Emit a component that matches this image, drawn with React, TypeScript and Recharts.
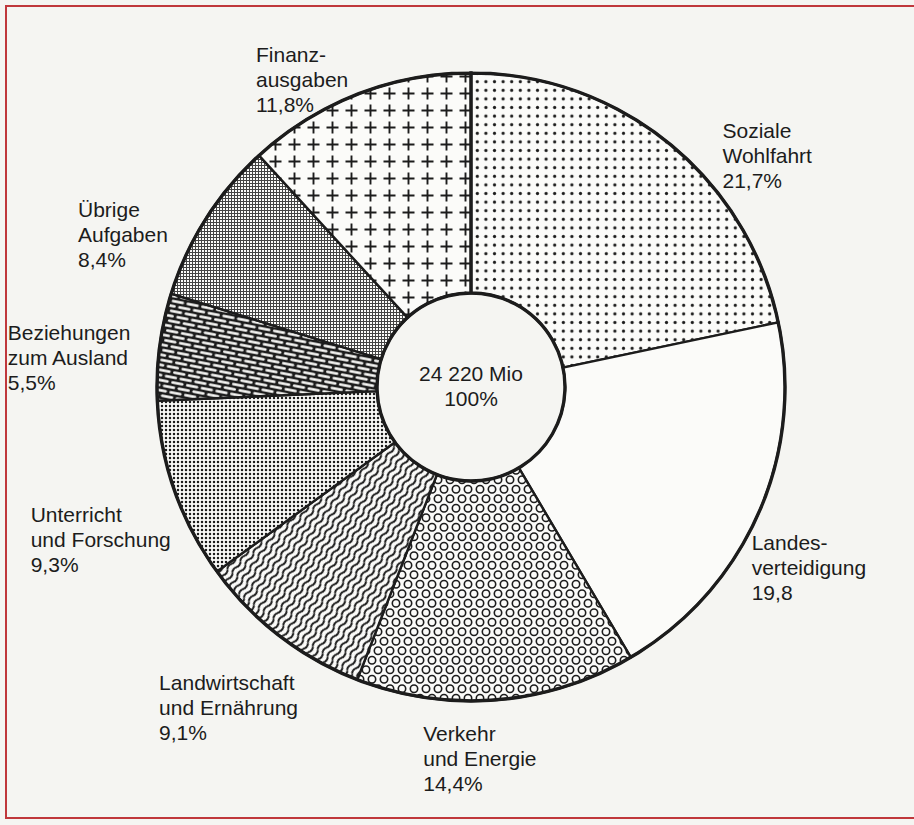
import React from 'react';
import { PieChart, Pie, Cell } from 'recharts';

// Bundeshaushalt – Anteile der Aufgabenbereiche
const CATEGORIES = [
  ['Soziale', 'Wohlfahrt'],
  ['Landes-', 'verteidigung'],
  ['Verkehr', 'und Energie'],
  ['Landwirtschaft', 'und Ernährung'],
  ['Unterricht', 'und Forschung'],
  ['Beziehungen', 'zum Ausland'],
  ['Übrige', 'Aufgaben'],
  ['Finanz-', 'ausgaben'],
];
const SHARES = [21.7, 19.8, 14.4, 9.1, 9.3, 5.5, 8.4, 11.8];
const SHARE_LABELS = ['21,7%', '19,8', '14,4%', '9,1%', '9,3%', '5,5%', '8,4%', '11,8%'];
const TOTAL_LABEL = '24 220 Mio';
const TOTAL_SHARE = '100%';

// hatch pattern per slice (same order as above)
const FILLS = [
  'url(#p-dots)',
  '#fbfbf9',
  'url(#p-rings)',
  'url(#p-waves)',
  'url(#p-stipple)',
  'url(#p-bricks)',
  'url(#p-grid)',
  'url(#p-plus)',
];

// where each label text block sits relative to its slice's mid-angle anchor
const LABEL_OFFSETS: [number, number][] = [
  [41, 10],
  [-25, 28],
  [-75, 21],
  [-108, 38],
  [-125, 25],
  [-132, -4],
  [-111, 9],
  [-94, -14],
];

const INK = '#1c1c1c';
const PAPER = '#fbfbf9';
const FONT = '"Liberation Sans", Arial, sans-serif';
const FONT_SIZE = 21;
const LINE_H = 25;

const pieData = SHARES.map((v, i) => ({ name: CATEGORIES[i].join(' '), value: v }));
const ringData = [{ name: 'ring', value: 1 }];

const renderLabel = (props: any) => {
  const { cx, cy, midAngle, outerRadius, index } = props;
  const RAD = Math.PI / 180;
  const r = outerRadius + 20;
  const ax = cx + r * Math.cos(-midAngle * RAD);
  const ay = cy + r * Math.sin(-midAngle * RAD);
  const [dx, dy] = LABEL_OFFSETS[index];
  const x = ax + dx;
  const lines = [...CATEGORIES[index], SHARE_LABELS[index]];
  return (
    <text x={x} y={ay + dy} fill={INK} fontSize={FONT_SIZE} fontFamily={FONT} textAnchor="start">
      {lines.map((l, i) => (
        <tspan key={i} x={x} dy={i === 0 ? 0 : LINE_H}>
          {l}
        </tspan>
      ))}
    </text>
  );
};

export default function App() {
  const cx = 471;
  const cy = 387;
  return (
    <div style={{ position: 'absolute', left: 0, top: 0, width: 914, height: 825, background: '#f5f5f2', overflow: 'hidden' }}>
      <div
        style={{
          position: 'absolute',
          left: 5,
          top: 5,
          width: 930,
          height: 814,
          border: '2px solid #c0383c',
          boxSizing: 'border-box',
        }}
      />
      <div style={{ position: 'absolute', left: 0, top: 0 }}>
        <PieChart width={914} height={825} margin={{ top: 0, right: 0, bottom: 0, left: 0 }}>
          <defs>
            <pattern id="p-dots" patternUnits="userSpaceOnUse" width={8.6} height={8.6}>
              <rect width={8.6} height={8.6} fill={PAPER} />
              <circle cx={4.3} cy={4.3} r={1.6} fill={INK} />
            </pattern>
            <pattern id="p-rings" patternUnits="userSpaceOnUse" width={12} height={19}>
              <rect width={12} height={19} fill={PAPER} />
              <circle cx={6} cy={4.75} r={3.7} fill="none" stroke={INK} strokeWidth={1.6} />
              <circle cx={0} cy={14.25} r={3.7} fill="none" stroke={INK} strokeWidth={1.6} />
              <circle cx={12} cy={14.25} r={3.7} fill="none" stroke={INK} strokeWidth={1.6} />
            </pattern>
            <pattern id="p-waves" patternUnits="userSpaceOnUse" width={14} height={6} patternTransform="rotate(-55)">
              <rect width={14} height={6} fill={PAPER} />
              <path d="M0,3 Q3.5,0.4 7,3 T14,3" fill="none" stroke={INK} strokeWidth={2} />
            </pattern>
            <pattern id="p-stipple" patternUnits="userSpaceOnUse" width={4} height={4}>
              <rect width={4} height={4} fill={PAPER} />
              <circle cx={2} cy={2} r={1.25} fill={INK} />
            </pattern>
            <pattern id="p-bricks" patternUnits="userSpaceOnUse" width={15} height={10} patternTransform="rotate(11)">
              <rect width={15} height={10} fill={INK} />
              <rect x={1} y={1.2} width={12.5} height={2.6} rx={1.3} fill={PAPER} />
              <rect x={8.5} y={6.2} width={12.5} height={2.6} rx={1.3} fill={PAPER} />
              <rect x={-6.5} y={6.2} width={12.5} height={2.6} rx={1.3} fill={PAPER} />
            </pattern>
            <pattern id="p-grid" patternUnits="userSpaceOnUse" width={3} height={3}>
              <rect width={3} height={3} fill={PAPER} />
              <path d="M0,0.5 H3 M0.5,0 V3" stroke="#444" strokeWidth={1} />
            </pattern>
            <pattern id="p-plus" patternUnits="userSpaceOnUse" width={19} height={17}>
              <rect width={19} height={17} fill={PAPER} />
              <path d="M3.5,8.5 H15.5 M9.5,2.5 V14.5" stroke={INK} strokeWidth={1.9} />
            </pattern>
          </defs>
          <Pie
            data={pieData}
            dataKey="value"
            cx={cx}
            cy={cy}
            innerRadius={94}
            outerRadius={314}
            startAngle={90}
            endAngle={-270}
            stroke={INK}
            strokeWidth={2.4}
            label={renderLabel}
            labelLine={false}
            isAnimationActive={false}
          >
            {pieData.map((d, i) => (
              <Cell key={d.name} fill={FILLS[i]} />
            ))}
          </Pie>
          <Pie
            data={ringData}
            dataKey="value"
            cx={cx}
            cy={cy}
            innerRadius={94}
            outerRadius={314}
            startAngle={90}
            endAngle={-270}
            fill="none"
            stroke={INK}
            strokeWidth={3.4}
            label={false}
            labelLine={false}
            isAnimationActive={false}
          />
          <text x={cx} y={381} textAnchor="middle" fill={INK} fontSize={FONT_SIZE} fontFamily={FONT}>
            {TOTAL_LABEL}
          </text>
          <text x={cx} y={406} textAnchor="middle" fill={INK} fontSize={FONT_SIZE} fontFamily={FONT}>
            {TOTAL_SHARE}
          </text>
        </PieChart>
      </div>
    </div>
  );
}
